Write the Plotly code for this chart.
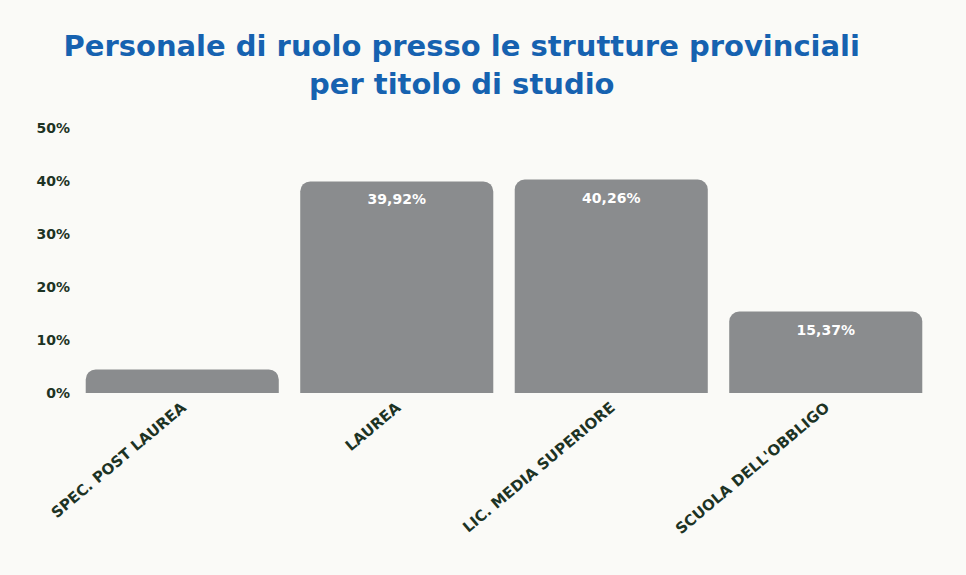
import plotly.graph_objects as go

categories = ["SPEC. POST LAUREA", "LAUREA", "LIC. MEDIA SUPERIORE", "SCUOLA DELL'OBBLIGO"]
values = [4.45, 39.92, 40.26, 15.37]
labels = ["", "39,92%", "40,26%", "15,37%"]
tick_vals = [0, 10, 20, 30, 40, 50]
tick_text = ["0%", "10%", "20%", "30%", "40%", "50%"]

fig = go.Figure(
    go.Bar(
        x=categories,
        y=values,
        text=labels,
        textposition="inside",
        insidetextanchor="end",
        textfont=dict(family="DejaVu Sans", size=14, color="white", weight="bold"),
        marker=dict(color="#8a8c8e", cornerradius=10, line=dict(width=0)),
        hoverinfo="skip",
    )
)

fig.update_layout(
    width=966,
    height=575,
    paper_bgcolor="#fafaf7",
    plot_bgcolor="#fafaf7",
    margin=dict(l=75, r=33, t=128, b=182),
    bargap=0.1,
    showlegend=False,
    title=dict(
        text="Personale di ruolo presso le strutture provinciali<br>per titolo di studio",
        x=0.478,
        xanchor="center",
        yref="container",
        y=0.902,
        yanchor="middle",
        font=dict(family="DejaVu Sans", size=29, color="#1662b0", weight="bold"),
    ),
)

fig.update_yaxes(
    range=[0, 50],
    tickvals=tick_vals,
    ticktext=tick_text,
    showgrid=False,
    zeroline=False,
    showline=False,
    ticks="",
    ticklabelstandoff=4,
    tickfont=dict(family="DejaVu Sans", size=14, color="#1d3324", weight="bold"),
)
fig.update_xaxes(
    tickangle=-40,
    showgrid=False,
    showline=False,
    ticks="",
    ticklabelstandoff=2,
    tickfont=dict(family="DejaVu Sans", size=15, color="#1d3324", weight="bold"),
)

fig.write_html("out.html")
